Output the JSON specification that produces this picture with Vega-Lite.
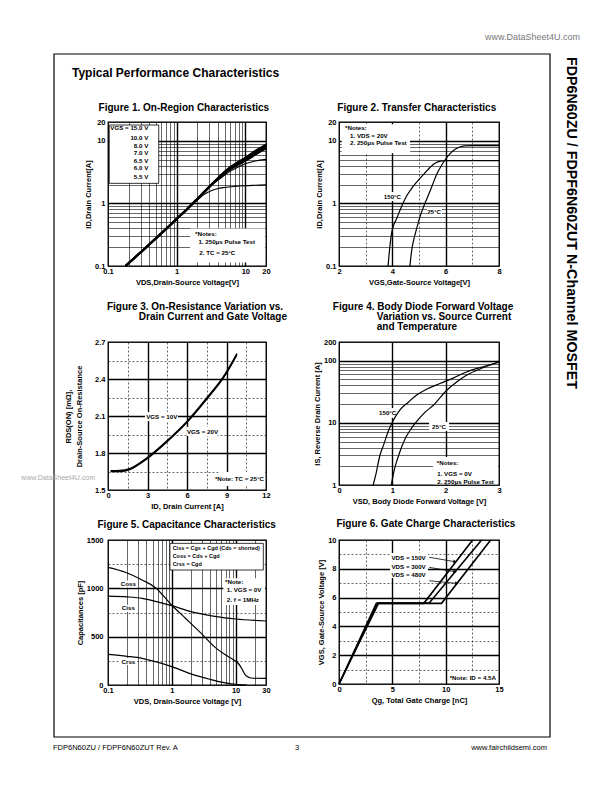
{
"$schema":"https://vega.github.io/schema/vega-lite/v6.json",
"background":"white",
"padding":0,
"columns":2,
"bounds":"flush",
"spacing":{"row":24,"column":73},
"datasets":{
"page":[
{"r":"page","hx":-108,"hy":-10,"hx2":504,"hy2":782},
{"r":"border","hx":-54,"hy":44,"hx2":442,"hy2":727},
{"r":"heading","hx":-36,"hy":67,"t":"Typical Performance Characteristics"},
{"r":"side","hx":463,"hy":47,"t":"FDP6N60ZU / FDPF6N60ZUT  N-Channel MOSFET"},
{"r":"topurl","hx":472,"hy":26.7,"t":"www.DataSheet4U.com"},
{"r":"wm","hx":-13,"hy":468,"t":"www.DataSheet4U.com"},
{"r":"footL","hx":-55,"hy":738,"t":"FDP6N60ZU / FDPF6N60ZUT Rev. A"},
{"r":"footC","hx":189,"hy":738,"t":"3"},
{"r":"footR","hx":439,"hy":738,"t":"www.fairchildsemi.com"}
],
"ann":[
{"f":1,"k":"box","x":0.1043,"y":17.89,"x2":0.548,"y2":2.093},
{"f":1,"k":"bg","x":1.573,"y":0.3966,"x2":19.38,"y2":0.1142},
{"f":1,"k":"tr","x":0.3862,"y":15.84,"t":"VGS = 15.0 V"},
{"f":1,"k":"tr","x":0.3862,"y":10.99,"t":"10.0 V"},
{"f":1,"k":"tr","x":0.3862,"y":8.256,"t":"8.0 V"},
{"f":1,"k":"tr","x":0.3862,"y":6.335,"t":"7.0 V"},
{"f":1,"k":"tr","x":0.3862,"y":4.758,"t":"6.5 V"},
{"f":1,"k":"tr","x":0.3862,"y":3.633,"t":"6.0 V"},
{"f":1,"k":"tr","x":0.3862,"y":2.671,"t":"5.5 V"},
{"f":1,"k":"tl","x":1.853,"y":0.3208,"t":"*Notes:"},
{"f":1,"k":"tl","x":2.071,"y":0.2448,"t":"1. 250μs Pulse Test"},
{"f":1,"k":"tl","x":2.138,"y":0.1594,"t":"2. TC = 25°C"},
{"f":1,"k":"Tc","x":1.272,"y":33.08,"t":"Figure 1. On-Region Characteristics"},
{"f":2,"k":"bg","x":2.102,"y":18.38,"x2":4.664,"y2":6.335},
{"f":2,"k":"bg","x":3.65,"y":1.523,"x2":4.364,"y2":1.091},
{"f":2,"k":"bg","x":5.3,"y":0.8459,"x2":5.864,"y2":0.6059},
{"f":2,"k":"tl","x":2.225,"y":15.84,"t":"*Notes:"},
{"f":2,"k":"tl","x":2.414,"y":12.09,"t":"1. VDS = 20V"},
{"f":2,"k":"tl","x":2.414,"y":9.129,"t":"2. 250μs Pulse Test"},
{"f":2,"k":"tc","x":4.004,"y":1.279,"t":"150°C"},
{"f":2,"k":"tc","x":5.564,"y":0.7216,"t":"25°C"},
{"f":2,"k":"Tc","x":4.916,"y":33.08,"t":"Figure 2. Transfer Characteristics"},
{"f":3,"k":"bg","x":2.808,"y":2.1324,"x2":5.316,"y2":2.0592},
{"f":3,"k":"bg","x":5.964,"y":2.0112,"x2":8.316,"y2":1.938},
{"f":3,"k":"bg","x":8.4,"y":1.6464,"x2":11.928,"y2":1.5324},
{"f":3,"k":"tc","x":4.08,"y":2.094,"t":"VGS = 10V"},
{"f":3,"k":"tc","x":7.176,"y":1.9728,"t":"VGS = 20V"},
{"f":3,"k":"tr","x":11.844,"y":1.5888,"t":"*Note: TC = 25°C"},
{"f":3,"k":"Tr","x":13.296,"y":2.9868,"t":"Figure 3. On-Resistance Variation vs."},
{"f":3,"k":"Tr","x":13.596,"y":2.9004,"t":"Drain Current and Gate Voltage"},
{"f":4,"k":"bg","x":0.714,"y":17.3,"x2":1.107,"y2":12.0},
{"f":4,"k":"bg","x":1.689,"y":10.34,"x2":2.064,"y2":7.409},
{"f":4,"k":"bg","x":1.764,"y":2.825,"x2":2.982,"y2":1.027},
{"f":4,"k":"tc","x":0.912,"y":14.22,"t":"150°C"},
{"f":4,"k":"tc","x":1.875,"y":8.685,"t":"25°C"},
{"f":4,"k":"tl","x":1.833,"y":2.237,"t":"*Notes:"},
{"f":4,"k":"tl","x":1.842,"y":1.504,"t":"1. VGS = 0V"},
{"f":4,"k":"tl","x":1.842,"y":1.13,"t":"2. 250μs Pulse Test"},
{"f":4,"k":"Tr","x":3.267,"y":740.4,"t":"Figure 4. Body Diode Forward Voltage"},
{"f":4,"k":"Tl","x":0.708,"y":510.9,"t":"Variation vs. Source Current"},
{"f":4,"k":"Tl","x":0.708,"y":345.2,"t":"and Temperature"},
{"f":5,"k":"box","x":0.9355,"y":1465.5,"x2":27.23,"y2":1189.5},
{"f":5,"k":"bg","x":6.432,"y":1104,"x2":29.0,"y2":828},
{"f":5,"k":"bg","x":0.1543,"y":1081,"x2":0.2848,"y2":1008.6},
{"f":5,"k":"bg","x":0.1543,"y":829.6,"x2":0.2848,"y2":757.2},
{"f":5,"k":"bg","x":0.1543,"y":279.3,"x2":0.2848,"y2":206.9},
{"f":5,"k":"sl","x":1.031,"y":1420.5,"t":"Ciss = Cgs + Cgd (Cds = shorted)"},
{"f":5,"k":"sl","x":1.031,"y":1338,"t":"Coss = Cds + Cgd"},
{"f":5,"k":"sl","x":1.031,"y":1248,"t":"Crss = Cgd"},
{"f":5,"k":"tl","x":6.847,"y":1062,"t":"*Note:"},
{"f":5,"k":"tl","x":7.292,"y":982.5,"t":"1. VGS = 0V"},
{"f":5,"k":"tl","x":7.292,"y":879,"t":"2. f = 1MHz"},
{"f":5,"k":"tc","x":0.2087,"y":1045.5,"t":"Coss"},
{"f":5,"k":"tc","x":0.2087,"y":793.5,"t":"Ciss"},
{"f":5,"k":"tc","x":0.2087,"y":241.5,"t":"Crss"},
{"f":5,"k":"Tc","x":1.713,"y":1654.5,"t":"Figure 5. Capacitance Characteristics"},
{"f":6,"k":"bg","x":4.785,"y":9.1,"x2":8.34,"y2":7.36},
{"f":6,"k":"bg","x":11.16,"y":0.83,"x2":14.85,"y2":0.07},
{"f":6,"k":"tr","x":8.13,"y":8.77,"t":"VDS = 150V"},
{"f":6,"k":"tr","x":8.13,"y":8.15,"t":"VDS = 300V"},
{"f":6,"k":"tr","x":8.13,"y":7.57,"t":"VDS = 480V"},
{"f":6,"k":"tr","x":14.715,"y":0.4,"t":"*Note: ID = 4.5A"},
{"f":6,"k":"rule","x":8.46,"y":8.8,"x2":10.875,"y2":8.49},
{"f":6,"k":"rule","x":8.46,"y":8.1,"x2":10.875,"y2":7.8},
{"f":6,"k":"rule","x":8.46,"y":7.17,"x2":11.04,"y2":6.99},
{"f":6,"k":"head","x":10.875,"y":8.49},
{"f":6,"k":"head","x":10.875,"y":7.8},
{"f":6,"k":"head","x":11.04,"y":6.99},
{"f":6,"k":"Tc","x":8.145,"y":11.09,"t":"Figure 6. Gate Charge Characteristics"}
],
"c1":[
{"s":"15.0 V","x":0.18,"y":0.1},{"s":"15.0 V","x":0.3,"y":0.166},{"s":"15.0 V","x":0.5,"y":0.278},{"s":"15.0 V","x":0.7,"y":0.39},{"s":"15.0 V","x":1,"y":0.565},{"s":"15.0 V","x":1.4,"y":0.8},{"s":"15.0 V","x":2,"y":1.18},{"s":"15.0 V","x":3,"y":1.85},{"s":"15.0 V","x":4.3,"y":2.75},{"s":"15.0 V","x":6,"y":3.8},{"s":"15.0 V","x":8,"y":4.65},{"s":"15.0 V","x":10,"y":5.35},{"s":"15.0 V","x":14,"y":6.9},{"s":"15.0 V","x":20,"y":8.7},
{"s":"10.0 V","x":0.18,"y":0.1},{"s":"10.0 V","x":0.3,"y":0.166},{"s":"10.0 V","x":0.5,"y":0.278},{"s":"10.0 V","x":0.7,"y":0.39},{"s":"10.0 V","x":1,"y":0.565},{"s":"10.0 V","x":1.4,"y":0.8},{"s":"10.0 V","x":2,"y":1.18},{"s":"10.0 V","x":3,"y":1.85},{"s":"10.0 V","x":4.3,"y":2.72},{"s":"10.0 V","x":6,"y":3.72},{"s":"10.0 V","x":8,"y":4.55},{"s":"10.0 V","x":10,"y":5.25},{"s":"10.0 V","x":14,"y":6.7},{"s":"10.0 V","x":20,"y":8.5},
{"s":"8.0 V","x":0.18,"y":0.1},{"s":"8.0 V","x":0.3,"y":0.166},{"s":"8.0 V","x":0.5,"y":0.278},{"s":"8.0 V","x":0.7,"y":0.39},{"s":"8.0 V","x":1,"y":0.565},{"s":"8.0 V","x":1.4,"y":0.8},{"s":"8.0 V","x":2,"y":1.18},{"s":"8.0 V","x":3,"y":1.85},{"s":"8.0 V","x":4.3,"y":2.7},{"s":"8.0 V","x":6,"y":3.65},{"s":"8.0 V","x":8,"y":4.45},{"s":"8.0 V","x":10,"y":5.15},{"s":"8.0 V","x":14,"y":6.55},{"s":"8.0 V","x":20,"y":8.3},
{"s":"7.0 V","x":0.18,"y":0.1},{"s":"7.0 V","x":0.3,"y":0.166},{"s":"7.0 V","x":0.5,"y":0.278},{"s":"7.0 V","x":0.7,"y":0.39},{"s":"7.0 V","x":1,"y":0.565},{"s":"7.0 V","x":1.4,"y":0.8},{"s":"7.0 V","x":2,"y":1.18},{"s":"7.0 V","x":3,"y":1.85},{"s":"7.0 V","x":4.3,"y":2.68},{"s":"7.0 V","x":6,"y":3.58},{"s":"7.0 V","x":8,"y":4.35},{"s":"7.0 V","x":10,"y":5.0},{"s":"7.0 V","x":14,"y":6.35},{"s":"7.0 V","x":20,"y":8.0},
{"s":"6.5 V","x":0.18,"y":0.1},{"s":"6.5 V","x":0.3,"y":0.166},{"s":"6.5 V","x":0.5,"y":0.278},{"s":"6.5 V","x":0.7,"y":0.39},{"s":"6.5 V","x":1,"y":0.565},{"s":"6.5 V","x":1.4,"y":0.8},{"s":"6.5 V","x":2,"y":1.18},{"s":"6.5 V","x":3,"y":1.85},{"s":"6.5 V","x":4.3,"y":2.65},{"s":"6.5 V","x":6,"y":3.5},{"s":"6.5 V","x":8,"y":4.2},{"s":"6.5 V","x":10,"y":4.8},{"s":"6.5 V","x":14,"y":6.0},{"s":"6.5 V","x":20,"y":7.6},
{"s":"6.0 V","x":0.18,"y":0.1},{"s":"6.0 V","x":0.3,"y":0.166},{"s":"6.0 V","x":0.5,"y":0.278},{"s":"6.0 V","x":0.7,"y":0.39},{"s":"6.0 V","x":1,"y":0.565},{"s":"6.0 V","x":1.4,"y":0.8},{"s":"6.0 V","x":2,"y":1.18},{"s":"6.0 V","x":3,"y":1.85},{"s":"6.0 V","x":4.3,"y":2.5},{"s":"6.0 V","x":6,"y":3.25},{"s":"6.0 V","x":8,"y":3.85},{"s":"6.0 V","x":10,"y":4.3},{"s":"6.0 V","x":14,"y":4.75},{"s":"6.0 V","x":20,"y":5.05},
{"s":"5.5 V","x":0.18,"y":0.1},{"s":"5.5 V","x":0.3,"y":0.166},{"s":"5.5 V","x":0.5,"y":0.278},{"s":"5.5 V","x":0.7,"y":0.39},{"s":"5.5 V","x":1,"y":0.565},{"s":"5.5 V","x":1.4,"y":0.8},{"s":"5.5 V","x":2,"y":1.13},{"s":"5.5 V","x":2.5,"y":1.38},{"s":"5.5 V","x":3,"y":1.55},{"s":"5.5 V","x":3.9,"y":1.72},{"s":"5.5 V","x":5,"y":1.8},{"s":"5.5 V","x":7,"y":1.87},{"s":"5.5 V","x":10,"y":1.92},{"s":"5.5 V","x":14,"y":1.95},{"s":"5.5 V","x":20,"y":1.98}
],
"c2":[
{"s":"150°C","x":3.84,"y":0.1},{"s":"150°C","x":3.9,"y":0.19},{"s":"150°C","x":3.97,"y":0.33},{"s":"150°C","x":4.05,"y":0.45},{"s":"150°C","x":4.16,"y":0.57},{"s":"150°C","x":4.3,"y":0.8},{"s":"150°C","x":4.53,"y":1.3},{"s":"150°C","x":4.75,"y":1.8},{"s":"150°C","x":4.97,"y":2.34},{"s":"150°C","x":5.2,"y":3.0},{"s":"150°C","x":5.41,"y":3.75},{"s":"150°C","x":5.6,"y":4.4},{"s":"150°C","x":5.8,"y":4.75},{"s":"150°C","x":6,"y":4.83},{"s":"150°C","x":8,"y":4.83},
{"s":"25°C","x":4.66,"y":0.1},{"s":"25°C","x":4.72,"y":0.17},{"s":"25°C","x":4.8,"y":0.26},{"s":"25°C","x":4.9,"y":0.38},{"s":"25°C","x":5.03,"y":0.6},{"s":"25°C","x":5.2,"y":0.95},{"s":"25°C","x":5.35,"y":1.35},{"s":"25°C","x":5.5,"y":1.95},{"s":"25°C","x":5.66,"y":2.9},{"s":"25°C","x":5.82,"y":3.9},{"s":"25°C","x":5.97,"y":4.9},{"s":"25°C","x":6.13,"y":6.0},{"s":"25°C","x":6.29,"y":7.0},{"s":"25°C","x":6.5,"y":7.9},{"s":"25°C","x":6.7,"y":8.3},{"s":"25°C","x":7,"y":8.4},{"s":"25°C","x":8,"y":8.4}
],
"c3":[
{"s":"10V","x":0.2,"y":1.655},{"s":"10V","x":0.9,"y":1.657},{"s":"10V","x":1.7,"y":1.675},{"s":"10V","x":2.9,"y":1.755},{"s":"10V","x":4.4,"y":1.89},{"s":"10V","x":6,"y":2.055},{"s":"10V","x":7.5,"y":2.245},{"s":"10V","x":8.9,"y":2.44},{"s":"10V","x":9.8,"y":2.605},
{"s":"20V","x":0.2,"y":1.65},{"s":"20V","x":0.9,"y":1.651},{"s":"20V","x":1.7,"y":1.669},{"s":"20V","x":2.9,"y":1.749},{"s":"20V","x":4.4,"y":1.884},{"s":"20V","x":6,"y":2.049},{"s":"20V","x":7.5,"y":2.238},{"s":"20V","x":8.9,"y":2.432},{"s":"20V","x":9.75,"y":2.59}
],
"c4":[
{"s":"150°C","x":0.64,"y":1},{"s":"150°C","x":0.7,"y":1.6},{"s":"150°C","x":0.76,"y":2.85},{"s":"150°C","x":0.84,"y":4.5},{"s":"150°C","x":0.92,"y":7.2},{"s":"150°C","x":1.02,"y":11},{"s":"150°C","x":1.14,"y":16},{"s":"150°C","x":1.3,"y":21.5},{"s":"150°C","x":1.45,"y":27.8},{"s":"150°C","x":1.65,"y":35},{"s":"150°C","x":1.89,"y":42.9},{"s":"150°C","x":2.15,"y":53},{"s":"150°C","x":2.39,"y":65.9},{"s":"150°C","x":2.7,"y":80},{"s":"150°C","x":3,"y":95.5},
{"s":"25°C","x":0.98,"y":1},{"s":"25°C","x":1.04,"y":1.8},{"s":"25°C","x":1.11,"y":2.85},{"s":"25°C","x":1.18,"y":4.2},{"s":"25°C","x":1.26,"y":5.97},{"s":"25°C","x":1.35,"y":8},{"s":"25°C","x":1.45,"y":10.4},{"s":"25°C","x":1.6,"y":14.5},{"s":"25°C","x":1.77,"y":19.2},{"s":"25°C","x":2.02,"y":33.5},{"s":"25°C","x":2.2,"y":45},{"s":"25°C","x":2.39,"y":58.3},{"s":"25°C","x":2.7,"y":77},{"s":"25°C","x":3,"y":95.5}
],
"c5":[
{"s":"Coss","x":0.1,"y":1217},{"s":"Coss","x":0.187,"y":1166},{"s":"Coss","x":0.343,"y":1086},{"s":"Coss","x":0.556,"y":1007},{"s":"Coss","x":1,"y":825},{"s":"Coss","x":1.64,"y":690},{"s":"Coss","x":2.9,"y":534},{"s":"Coss","x":5,"y":379},{"s":"Coss","x":7,"y":310},{"s":"Coss","x":9.5,"y":255},{"s":"Coss","x":11,"y":225},{"s":"Coss","x":12.5,"y":170},{"s":"Coss","x":14,"y":110},{"s":"Coss","x":16,"y":80},{"s":"Coss","x":19,"y":70},{"s":"Coss","x":30,"y":68},
{"s":"Ciss","x":0.1,"y":920},{"s":"Ciss","x":0.2,"y":912},{"s":"Ciss","x":0.343,"y":897},{"s":"Ciss","x":0.6,"y":860},{"s":"Ciss","x":1,"y":821},{"s":"Ciss","x":2,"y":759},{"s":"Ciss","x":3.5,"y":725},{"s":"Ciss","x":5,"y":707},{"s":"Ciss","x":10,"y":683},{"s":"Ciss","x":20,"y":668},{"s":"Ciss","x":30,"y":662},
{"s":"Crss","x":0.1,"y":317},{"s":"Crss","x":0.2,"y":297},{"s":"Crss","x":0.343,"y":276},{"s":"Crss","x":0.556,"y":241},{"s":"Crss","x":1,"y":190},{"s":"Crss","x":2.1,"y":110},{"s":"Crss","x":3.8,"y":62},{"s":"Crss","x":6.6,"y":24},{"s":"Crss","x":10,"y":7},{"s":"Crss","x":15,"y":0}
],
"c6":[
{"s":"150V","x":0,"y":0},{"s":"150V","x":3.5,"y":5.6},{"s":"150V","x":7.95,"y":5.6},{"s":"150V","x":12.53,"y":10},
{"s":"300V","x":0,"y":0},{"s":"300V","x":3.6,"y":5.63},{"s":"300V","x":8.46,"y":5.63},{"s":"300V","x":13.37,"y":10},
{"s":"480V","x":0,"y":0},{"s":"480V","x":3.7,"y":5.6},{"s":"480V","x":9.61,"y":5.6},{"s":"480V","x":14.22,"y":10}
]
},
"concat":[
{
"width":158,"height":88,
"data":{"name":"page"},
"encoding":{
"x":{"field":"hx","type":"quantitative","scale":{"domain":[0,158],"nice":false,"zero":false},"axis":null},
"y":{"field":"hy","type":"quantitative","scale":{"domain":[0,88],"nice":false,"zero":false,"reverse":true},"axis":null}
},
"layer":[
{"transform":[{"filter":"datum.r=='page'"}],"mark":{"type":"rect","color":"white"},"encoding":{"x2":{"field":"hx2"},"y2":{"field":"hy2"}}},
{"transform":[{"filter":"datum.r=='border'"}],"mark":{"type":"rect","filled":false,"color":"black","strokeWidth":1.2},"encoding":{"x2":{"field":"hx2"},"y2":{"field":"hy2"}}},
{"transform":[{"filter":"datum.r=='heading'"}],"mark":{"type":"text","align":"left","baseline":"alphabetic","fontSize":12,"fontWeight":"bold","color":"black"},"encoding":{"text":{"field":"t"}}},
{"transform":[{"filter":"datum.r=='side'"}],"mark":{"type":"text","align":"left","baseline":"middle","angle":90,"fontSize":14.3,"fontWeight":"bold","color":"black"},"encoding":{"text":{"field":"t"}}},
{"transform":[{"filter":"datum.r=='topurl'"}],"mark":{"type":"text","align":"right","baseline":"middle","fontSize":9,"color":"#777777"},"encoding":{"text":{"field":"t"}}},
{"transform":[{"filter":"datum.r=='wm'"}],"mark":{"type":"text","align":"right","baseline":"middle","fontSize":7,"color":"#aaaaaa"},"encoding":{"text":{"field":"t"}}},
{"transform":[{"filter":"datum.r=='footL'"}],"mark":{"type":"text","align":"left","baseline":"middle","fontSize":7.5,"color":"black"},"encoding":{"text":{"field":"t"}}},
{"transform":[{"filter":"datum.r=='footC'"}],"mark":{"type":"text","align":"center","baseline":"middle","fontSize":7.5,"color":"black"},"encoding":{"text":{"field":"t"}}},
{"transform":[{"filter":"datum.r=='footR'"}],"mark":{"type":"text","align":"right","baseline":"middle","fontSize":7.5,"color":"black"},"encoding":{"text":{"field":"t"}}}
]
},
{"width":160,"height":10,"data":{"values":[]},"mark":"point"},
{
"width":158,"height":144,
"view":{"stroke":"black","strokeWidth":1.3},
"encoding":{
"x":{"field":"x","type":"quantitative","scale":{"type":"log","domain":[0.1,20],"nice":false},"axis":{"title":"VDS,Drain-Source Voltage[V]","values":[0.1,0.2,0.3,0.4,0.5,0.6,0.7,0.8,0.9,1,2,3,4,5,6,7,8,9,10,20],"labelExpr":"indexof([0.1,1,10,20], datum.value) >= 0 ? format(datum.value, '~g') : ''","gridWidth":{"condition":{"test":"indexof([1,10], datum.value) >= 0","value":1.4},"value":0.6}}},
"y":{"field":"y","type":"quantitative","scale":{"type":"log","domain":[0.1,20],"nice":false},"axis":{"title":"ID,Drain Current[A]","values":[0.1,0.2,0.3,0.4,0.5,0.6,0.7,0.8,0.9,1,2,3,4,5,6,7,8,9,10,20],"labelExpr":"indexof([0.1,1,10,20], datum.value) >= 0 ? format(datum.value, '~g') : ''","gridWidth":{"condition":{"test":"indexof([1,10], datum.value) >= 0","value":1.4},"value":0.6}}}
},
"layer":[
{"data":{"name":"ann"},"transform":[{"filter":"datum.f==1 && (datum.k=='box' || datum.k=='bg')"}],"mark":{"type":"rect","color":"white","stroke":"black"},"encoding":{"x2":{"field":"x2"},"y2":{"field":"y2"},"strokeWidth":{"condition":{"test":"datum.k=='box'","value":0.8},"value":0}}},
{"data":{"name":"c1"},"transform":[{"filter":"indexof(['15.0 V','10.0 V','8.0 V','7.0 V','6.5 V'], datum.s) >= 0"}],"mark":{"type":"line","color":"black","strokeWidth":2.0,"interpolate":"monotone"},"encoding":{"detail":{"field":"s"}}},
{"data":{"name":"c1"},"transform":[{"filter":"datum.s=='6.0 V' || datum.s=='5.5 V'"}],"mark":{"type":"line","color":"black","strokeWidth":1.1,"interpolate":"monotone"},"encoding":{"detail":{"field":"s"}}},
{"data":{"name":"ann"},"transform":[{"filter":"datum.f==1 && datum.k=='tr'"}],"mark":{"type":"text","align":"right","baseline":"middle","fontSize":6.2,"fontWeight":"bold","color":"black"},"encoding":{"text":{"field":"t"}}},
{"data":{"name":"ann"},"transform":[{"filter":"datum.f==1 && datum.k=='tl'"}],"mark":{"type":"text","align":"left","baseline":"middle","fontSize":6.2,"fontWeight":"bold","color":"black"},"encoding":{"text":{"field":"t"}}},
{"data":{"name":"ann"},"transform":[{"filter":"datum.f==1 && datum.k=='Tc'"}],"mark":{"type":"text","align":"center","baseline":"middle","fontSize":10,"fontWeight":"bold","color":"black"},"encoding":{"text":{"field":"t"}}}
]
},
{
"width":160,"height":144,
"view":{"stroke":"black","strokeWidth":1.3},
"encoding":{
"x":{"field":"x","type":"quantitative","scale":{"domain":[2,8],"nice":false,"zero":false},"axis":{"title":"VGS,Gate-Source Voltage[V]","values":[2,3,4,5,6,7,8],"labelExpr":"datum.value % 2 == 0 ? format(datum.value, '~g') : ''","gridWidth":{"condition":{"test":"datum.value == 4 || datum.value == 6","value":1.4},"value":0.6},"gridDash":{"condition":{"test":"datum.value % 2 == 0","value":[]},"value":[2,2]}}},
"y":{"field":"y","type":"quantitative","scale":{"type":"log","domain":[0.1,20],"nice":false},"axis":{"title":"ID,Drain Current[A]","values":[0.1,0.2,0.3,0.4,0.5,0.6,0.7,0.8,0.9,1,2,3,4,5,6,7,8,9,10,20],"labelExpr":"indexof([0.1,1,10,20], datum.value) >= 0 ? format(datum.value, '~g') : ''","gridWidth":{"condition":{"test":"indexof([1,10], datum.value) >= 0","value":1.4},"value":0.6}}}
},
"layer":[
{"data":{"name":"ann"},"transform":[{"filter":"datum.f==2 && (datum.k=='box' || datum.k=='bg')"}],"mark":{"type":"rect","color":"white","stroke":"black"},"encoding":{"x2":{"field":"x2"},"y2":{"field":"y2"},"strokeWidth":{"condition":{"test":"datum.k=='box'","value":0.8},"value":0}}},
{"data":{"name":"c2"},"mark":{"type":"line","color":"black","strokeWidth":1.2,"interpolate":"monotone"},"encoding":{"detail":{"field":"s"}}},
{"data":{"name":"ann"},"transform":[{"filter":"datum.f==2 && datum.k=='tl'"}],"mark":{"type":"text","align":"left","baseline":"middle","fontSize":6.2,"fontWeight":"bold","color":"black"},"encoding":{"text":{"field":"t"}}},
{"data":{"name":"ann"},"transform":[{"filter":"datum.f==2 && datum.k=='tc'"}],"mark":{"type":"text","align":"center","baseline":"middle","fontSize":6.2,"fontWeight":"bold","color":"black"},"encoding":{"text":{"field":"t"}}},
{"data":{"name":"ann"},"transform":[{"filter":"datum.f==2 && datum.k=='Tc'"}],"mark":{"type":"text","align":"center","baseline":"middle","fontSize":10,"fontWeight":"bold","color":"black"},"encoding":{"text":{"field":"t"}}}
]
},
{"width":158,"height":28,"data":{"values":[]},"mark":"point"},
{"width":160,"height":28,"data":{"values":[]},"mark":"point"},
{
"width":158,"height":148,
"view":{"stroke":"black","strokeWidth":1.3},
"encoding":{
"x":{"field":"x","type":"quantitative","scale":{"domain":[0,12],"nice":false,"zero":false},"axis":{"title":"ID, Drain Current [A]","values":[0,1.5,3,4.5,6,7.5,9,10.5,12],"labelExpr":"datum.value % 3 == 0 ? format(datum.value, '~g') : ''","gridWidth":{"condition":{"test":"datum.value == 3 || datum.value == 6 || datum.value == 9","value":1.4},"value":0.6},"gridDash":{"condition":{"test":"datum.value % 3 == 0","value":[]},"value":[2,2]}}},
"y":{"field":"y","type":"quantitative","scale":{"domain":[1.5,2.7],"nice":false,"zero":false},"axis":{"title":["RDS(ON) [mΩ],","Drain-Source On-Resistance"],"titlePadding":11,"titleLineHeight":11,"values":[1.5,1.65,1.8,1.95,2.1,2.25,2.4,2.55,2.7],"labelExpr":"indexof([1.5,1.8,2.1,2.4,2.7], datum.value) >= 0 ? format(datum.value, '.1f') : ''","gridWidth":{"condition":{"test":"indexof([1.8,2.1,2.4], datum.value) >= 0","value":1.4},"value":0.6},"gridDash":{"condition":{"test":"indexof([1.5,1.8,2.1,2.4,2.7], datum.value) >= 0","value":[]},"value":[2,2]}}}
},
"layer":[
{"data":{"name":"ann"},"transform":[{"filter":"datum.f==3 && (datum.k=='box' || datum.k=='bg')"}],"mark":{"type":"rect","color":"white","stroke":"black"},"encoding":{"x2":{"field":"x2"},"y2":{"field":"y2"},"strokeWidth":{"condition":{"test":"datum.k=='box'","value":0.8},"value":0}}},
{"data":{"name":"c3"},"mark":{"type":"line","color":"black","strokeWidth":1.6,"interpolate":"monotone"},"encoding":{"detail":{"field":"s"}}},
{"data":{"name":"ann"},"transform":[{"filter":"datum.f==3 && datum.k=='tc'"}],"mark":{"type":"text","align":"center","baseline":"middle","fontSize":6.2,"fontWeight":"bold","color":"black"},"encoding":{"text":{"field":"t"}}},
{"data":{"name":"ann"},"transform":[{"filter":"datum.f==3 && datum.k=='tr'"}],"mark":{"type":"text","align":"right","baseline":"middle","fontSize":6.2,"fontWeight":"bold","color":"black"},"encoding":{"text":{"field":"t"}}},
{"data":{"name":"ann"},"transform":[{"filter":"datum.f==3 && datum.k=='Tr'"}],"mark":{"type":"text","align":"right","baseline":"middle","fontSize":10,"fontWeight":"bold","color":"black"},"encoding":{"text":{"field":"t"}}}
]
},
{
"width":160,"height":143,
"view":{"stroke":"black","strokeWidth":1.3},
"encoding":{
"x":{"field":"x","type":"quantitative","scale":{"domain":[0,3],"nice":false,"zero":false},"axis":{"title":"VSD, Body Diode Forward Voltage [V]","values":[0,1,2,3],"format":"~g","gridWidth":{"condition":{"test":"datum.value == 1 || datum.value == 2","value":1.4},"value":0.6}}},
"y":{"field":"y","type":"quantitative","scale":{"type":"log","domain":[1,200],"nice":false},"axis":{"title":"IS, Reverse Drain Current [A]","values":[1,2,3,4,5,6,7,8,9,10,20,30,40,50,60,70,80,90,100,200],"labelExpr":"indexof([1,10,100,200], datum.value) >= 0 ? format(datum.value, '~g') : ''","gridWidth":{"condition":{"test":"datum.value == 10 || datum.value == 100","value":1.4},"value":0.6}}}
},
"layer":[
{"data":{"name":"ann"},"transform":[{"filter":"datum.f==4 && (datum.k=='box' || datum.k=='bg')"}],"mark":{"type":"rect","color":"white","stroke":"black"},"encoding":{"x2":{"field":"x2"},"y2":{"field":"y2"},"strokeWidth":{"condition":{"test":"datum.k=='box'","value":0.8},"value":0}}},
{"data":{"name":"c4"},"mark":{"type":"line","color":"black","strokeWidth":1.2,"interpolate":"monotone"},"encoding":{"detail":{"field":"s"}}},
{"data":{"name":"ann"},"transform":[{"filter":"datum.f==4 && datum.k=='tc'"}],"mark":{"type":"text","align":"center","baseline":"middle","fontSize":6.2,"fontWeight":"bold","color":"black"},"encoding":{"text":{"field":"t"}}},
{"data":{"name":"ann"},"transform":[{"filter":"datum.f==4 && datum.k=='tl'"}],"mark":{"type":"text","align":"left","baseline":"middle","fontSize":6.2,"fontWeight":"bold","color":"black"},"encoding":{"text":{"field":"t"}}},
{"data":{"name":"ann"},"transform":[{"filter":"datum.f==4 && datum.k=='Tr'"}],"mark":{"type":"text","align":"right","baseline":"middle","fontSize":10,"fontWeight":"bold","color":"black"},"encoding":{"text":{"field":"t"}}},
{"data":{"name":"ann"},"transform":[{"filter":"datum.f==4 && datum.k=='Tl'"}],"mark":{"type":"text","align":"left","baseline":"middle","fontSize":10,"fontWeight":"bold","color":"black"},"encoding":{"text":{"field":"t"}}}
]
},
{"width":158,"height":2,"data":{"values":[]},"mark":"point"},
{"width":160,"height":2,"data":{"values":[]},"mark":"point"},
{
"width":158,"height":145,
"view":{"stroke":"black","strokeWidth":1.3},
"encoding":{
"x":{"field":"x","type":"quantitative","scale":{"type":"log","domain":[0.1,30],"nice":false},"axis":{"title":"VDS, Drain-Source Voltage [V]","values":[0.1,0.2,0.3,0.4,0.5,0.6,0.7,0.8,0.9,1,2,3,4,5,6,7,8,9,10,20,30],"labelExpr":"indexof([0.1,1,10,30], datum.value) >= 0 ? format(datum.value, '~g') : ''","gridWidth":{"condition":{"test":"indexof([1,10], datum.value) >= 0","value":1.4},"value":0.6}}},
"y":{"field":"y","type":"quantitative","scale":{"domain":[0,1500],"nice":false,"zero":false},"axis":{"title":"Capacitances [pF]","labelPadding":5,"values":[0,250,500,750,1000,1250,1500],"labelExpr":"datum.value % 500 == 0 ? format(datum.value, '~g') : ''","gridWidth":{"condition":{"test":"datum.value == 500 || datum.value == 1000","value":1.4},"value":0.6},"gridDash":{"condition":{"test":"datum.value % 500 == 0","value":[]},"value":[2,2]}}}
},
"layer":[
{"data":{"name":"ann"},"transform":[{"filter":"datum.f==5 && (datum.k=='box' || datum.k=='bg')"}],"mark":{"type":"rect","color":"white","stroke":"black"},"encoding":{"x2":{"field":"x2"},"y2":{"field":"y2"},"strokeWidth":{"condition":{"test":"datum.k=='box'","value":0.8},"value":0}}},
{"data":{"name":"c5"},"mark":{"type":"line","color":"black","strokeWidth":1.2,"interpolate":"monotone"},"encoding":{"detail":{"field":"s"}}},
{"data":{"name":"ann"},"transform":[{"filter":"datum.f==5 && datum.k=='sl'"}],"mark":{"type":"text","align":"left","baseline":"middle","fontSize":5.5,"fontWeight":"bold","color":"black"},"encoding":{"text":{"field":"t"}}},
{"data":{"name":"ann"},"transform":[{"filter":"datum.f==5 && datum.k=='tl'"}],"mark":{"type":"text","align":"left","baseline":"middle","fontSize":6.2,"fontWeight":"bold","color":"black"},"encoding":{"text":{"field":"t"}}},
{"data":{"name":"ann"},"transform":[{"filter":"datum.f==5 && datum.k=='tc'"}],"mark":{"type":"text","align":"center","baseline":"middle","fontSize":6.2,"fontWeight":"bold","color":"black"},"encoding":{"text":{"field":"t"}}},
{"data":{"name":"ann"},"transform":[{"filter":"datum.f==5 && datum.k=='Tc'"}],"mark":{"type":"text","align":"center","baseline":"middle","fontSize":10,"fontWeight":"bold","color":"black"},"encoding":{"text":{"field":"t"}}}
]
},
{
"width":160,"height":144,
"view":{"stroke":"black","strokeWidth":1.3},
"encoding":{
"x":{"field":"x","type":"quantitative","scale":{"domain":[0,15],"nice":false,"zero":false},"axis":{"title":"Qg, Total Gate Charge [nC]","values":[0,2.5,5,7.5,10,12.5,15],"labelExpr":"datum.value % 5 == 0 ? format(datum.value, '~g') : ''","gridWidth":{"condition":{"test":"datum.value == 5 || datum.value == 10","value":1.4},"value":0.6},"gridDash":{"condition":{"test":"datum.value % 5 == 0","value":[]},"value":[2,2]}}},
"y":{"field":"y","type":"quantitative","scale":{"domain":[0,10],"nice":false,"zero":false},"axis":{"title":"VGS, Gate-Source Voltage [V]","values":[0,1,2,3,4,5,6,7,8,9,10],"labelExpr":"datum.value % 2 == 0 ? format(datum.value, '~g') : ''","gridWidth":{"condition":{"test":"datum.value % 2 == 0 && datum.value > 0 && datum.value < 10","value":1.4},"value":0.6},"gridDash":{"condition":{"test":"datum.value % 2 == 0","value":[]},"value":[2,2]}}}
},
"layer":[
{"data":{"name":"ann"},"transform":[{"filter":"datum.f==6 && (datum.k=='box' || datum.k=='bg')"}],"mark":{"type":"rect","color":"white","stroke":"black"},"encoding":{"x2":{"field":"x2"},"y2":{"field":"y2"},"strokeWidth":{"condition":{"test":"datum.k=='box'","value":0.8},"value":0}}},
{"data":{"name":"c6"},"mark":{"type":"line","color":"black","strokeWidth":1.6},"encoding":{"detail":{"field":"s"}}},
{"data":{"name":"ann"},"transform":[{"filter":"datum.f==6 && datum.k=='rule'"}],"mark":{"type":"rule","color":"black","strokeWidth":0.8},"encoding":{"x2":{"field":"x2"},"y2":{"field":"y2"}}},
{"data":{"name":"ann"},"transform":[{"filter":"datum.f==6 && datum.k=='head'"}],"mark":{"type":"point","shape":"triangle-right","filled":true,"color":"black","opacity":1,"size":14,"angle":10}},
{"data":{"name":"ann"},"transform":[{"filter":"datum.f==6 && datum.k=='tr'"}],"mark":{"type":"text","align":"right","baseline":"middle","fontSize":6.2,"fontWeight":"bold","color":"black"},"encoding":{"text":{"field":"t"}}},
{"data":{"name":"ann"},"transform":[{"filter":"datum.f==6 && datum.k=='Tc'"}],"mark":{"type":"text","align":"center","baseline":"middle","fontSize":10,"fontWeight":"bold","color":"black"},"encoding":{"text":{"field":"t"}}}
]
}
],
"config":{
"font":"Liberation Sans",
"view":{"stroke":null},
"axis":{"labelFont":"Liberation Sans","labelFontWeight":"bold","labelFontSize":7.5,"labelColor":"black","titleFont":"Liberation Sans","titleFontWeight":"bold","titleFontSize":7.5,"titleColor":"black","ticks":false,"domain":false,"grid":true,"gridColor":"black","gridOpacity":1,"labelFlush":false,"labelOverlap":false,"labelBound":false},
"axisX":{"labelPadding":1.5,"titlePadding":3},
"axisY":{"labelPadding":3,"titlePadding":2},
"text":{"font":"Liberation Sans"}
}
}
